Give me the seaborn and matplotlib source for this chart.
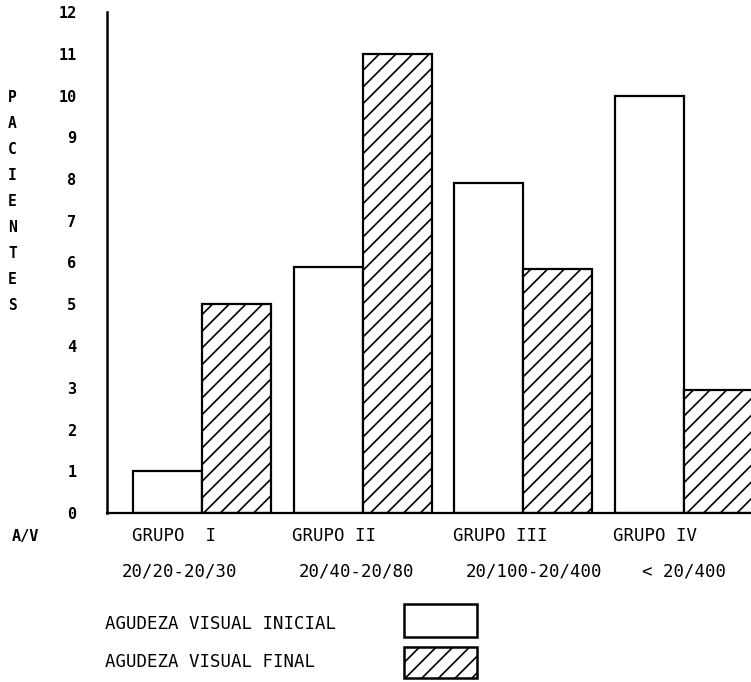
import matplotlib
matplotlib.use("Agg")
import matplotlib.pyplot as plt
from matplotlib.patches import Rectangle
import seaborn as sns
import pandas as pd

# ---- data ----
grupos = ["GRUPO  I", "GRUPO II", "GRUPO III", "GRUPO IV"]
rangos = ["20/20-20/30", "20/40-20/80", "20/100-20/400", "< 20/400"]
inicial = [1, 5.9, 7.9, 10]
final = [5, 11, 5.85, 2.95]
series = ["AGUDEZA VISUAL INICIAL", "AGUDEZA VISUAL FINAL"]
yticks = list(range(0, 13))
ylabel = "PACIENTES"

sns.set_style("white")
plt.rcParams["font.family"] = ["DejaVu Sans Mono", "DejaVu Sans"]
plt.rcParams["hatch.linewidth"] = 1.2
plt.rcParams["hatch.color"] = "black"
plt.rcParams["text.color"] = "black"
plt.rcParams["ytick.color"] = "black"
plt.rcParams["ytick.labelcolor"] = "black"

W, H = 751, 682
fig = plt.figure(figsize=(W / 100, H / 100), dpi=100)
ax = fig.add_axes([107 / W, (H - 513) / H, (W - 107) / W, 501 / H])

df = pd.DataFrame({
    "grupo": grupos * 2,
    "tipo": [series[0]] * len(grupos) + [series[1]] * len(grupos),
    "pacientes": inicial + final,
})

sns.barplot(data=df, x="grupo", y="pacientes", hue="tipo", hue_order=series,
            palette={series[0]: "white", series[1]: "white"}, saturation=1,
            edgecolor="black", linewidth=1.6, width=0.86, ax=ax, legend=False)
for bar in ax.containers[1]:
    bar.set_hatch("//")

ax.set_xlim(-0.594, 3.42)
ax.set_ylim(0, 12)
ax.set_yticks(yticks)
ax.set_yticklabels([str(t) for t in yticks], fontsize=11, fontweight="bold", color="black")
ax.tick_params(axis="y", direction="inout", length=6, width=1.4, pad=19, colors="black")
ax.tick_params(axis="x", length=0, labelbottom=False)
ax.set_xlabel("")
ax.set_ylabel("")
for s in ["top", "right"]:
    ax.spines[s].set_visible(False)
ax.spines["left"].set_linewidth(1.8)
ax.spines["bottom"].set_linewidth(1.6)
ax.spines["left"].set_color("black")
ax.spines["bottom"].set_color("black")

# group labels (left aligned at left bar edge) and ranges
half = 0.43
gy = -(536 - 513) / 501
ry = -(571 - 513) / 501
range_off = [-0.14, -0.04, 0.07, 0.0]
for i, (g, r) in enumerate(zip(grupos, rangos)):
    ax.text(i - half - 0.01, gy, g, ha="left", va="center", fontsize=12.5, color="black",
            transform=ax.get_xaxis_transform(), clip_on=False)
    ax.text(i + range_off[i], ry, r, ha="center", va="center", fontsize=12.5, color="black",
            transform=ax.get_xaxis_transform(), clip_on=False)

fig.text(12 / W, 1 - 536 / H, "A/V", ha="left", va="center", fontsize=11, fontweight="bold")

for i, ch in enumerate(ylabel):
    fig.text(12.5 / W, 1 - (98 + i * 25.9) / H, ch, ha="center", va="center",
             fontsize=10.5, fontweight="bold")

# legend
fig.text(105 / W, 1 - 624 / H, series[0], ha="left", va="center", fontsize=12.5)
fig.text(105 / W, 1 - 662 / H, series[1], ha="left", va="center", fontsize=12.5)
fig.add_artist(Rectangle((404 / W, (H - 637) / H), 73 / W, 33 / H, transform=fig.transFigure,
                         facecolor="white", edgecolor="black", linewidth=1.8))
fig.add_artist(Rectangle((404 / W, (H - 678) / H), 73 / W, 31 / H, transform=fig.transFigure,
                         facecolor="white", edgecolor="black", linewidth=1.8, hatch="//"))

fig.savefig("out.png", dpi=100, facecolor="white")
